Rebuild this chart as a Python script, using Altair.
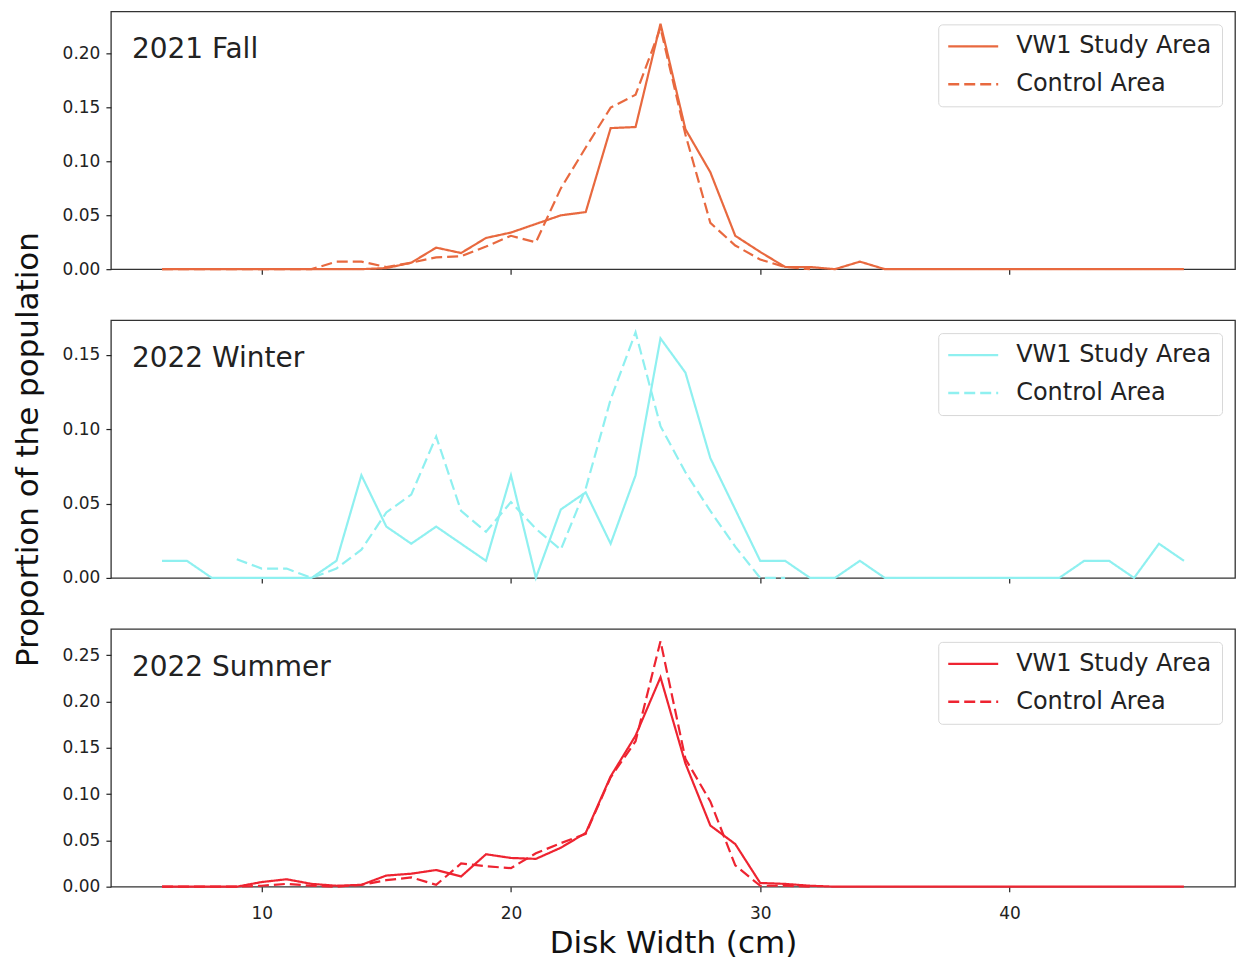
import altair as alt
import pandas as pd

# Disk width bins (cm)
widths = list(range(6, 48))

seasons = ["2021 Fall", "2022 Winter", "2022 Summer"]
colors = ["#E8693F", "#8FF0F0", "#EE2431"]
series_names = ["VW1 Study Area", "Control Area"]

# 2021 Fall (study area covers 6-47 cm, control 6-32 cm)
fall_study = [0, 0, 0, 0, 0, 0, 0, 0, 0, 0.001, 0.006, 0.020, 0.015, 0.029,
              0.034, 0.042, 0.050, 0.053, 0.131, 0.132, 0.228, 0.130, 0.090,
              0.031, 0.016, 0.002, 0.002, 0.0, 0.007, 0, 0, 0, 0, 0, 0, 0,
              0, 0, 0, 0, 0, 0]
fall_control_widths = list(range(6, 33))
fall_control = [0, 0, 0, 0, 0, 0, 0, 0.007, 0.007, 0.002, 0.006, 0.011,
                0.012, 0.021, 0.031, 0.025, 0.075, 0.113, 0.150, 0.162,
                0.224, 0.125, 0.043, 0.022, 0.009, 0.002, 0.0]

# 2022 Winter (study 6-47 cm, control 9-31 cm)
winter_study = [0.0115, 0.0115, 0, 0, 0, 0, 0, 0.0115, 0.069, 0.0345, 0.023,
                0.0345, 0.023, 0.0115, 0.069, 0, 0.046, 0.0575, 0.023, 0.069,
                0.161, 0.138, 0.0805, 0.046, 0.0115, 0.0115, 0, 0, 0.0115, 0,
                0, 0, 0, 0, 0, 0, 0, 0.0115, 0.0115, 0, 0.023, 0.0115]
winter_control_widths = list(range(9, 32))
winter_control = [0.0125, 0.0063, 0.0063, 0, 0.0063, 0.019, 0.044, 0.056,
                  0.095, 0.045, 0.031, 0.051, 0.033, 0.019, 0.060, 0.120,
                  0.165, 0.102, 0.071, 0.045, 0.021, 0, 0]

# 2022 Summer (study 6-47 cm, control 6-32 cm)
summer_study = [0, 0, 0, 0, 0.005, 0.008, 0.003, 0.001, 0.002, 0.012, 0.014,
                0.018, 0.011, 0.035, 0.031, 0.030, 0.042, 0.058, 0.119, 0.163,
                0.226, 0.133, 0.066, 0.046, 0.004, 0.003, 0.001, 0, 0, 0, 0,
                0, 0, 0, 0, 0, 0, 0, 0, 0, 0, 0]
summer_control_widths = list(range(6, 33))
summer_control = [0, 0, 0, 0, 0.001, 0.003, 0.001, 0.0, 0.002, 0.007, 0.010,
                  0.002, 0.025, 0.022, 0.020, 0.036, 0.047, 0.057, 0.118,
                  0.157, 0.265, 0.138, 0.092, 0.023, 0.001, 0.001, 0.0]

panels = [
    (seasons[0], colors[0], fall_study, fall_control_widths, fall_control,
     [0, 0.05, 0.10, 0.15, 0.20]),
    (seasons[1], colors[1], winter_study, winter_control_widths, winter_control,
     [0, 0.05, 0.10, 0.15]),
    (seasons[2], colors[2], summer_study, summer_control_widths, summer_control,
     [0, 0.05, 0.10, 0.15, 0.20, 0.25]),
]

FONT = "DejaVu Sans"
W, H = 1125, 258
X_DOMAIN = [3.95, 49.05]
# wide horizontal stroke used as the legend key (scaled by sqrt(symbolSize)/2)
LEGEND_KEY = "M-2.5,0H2.5"

charts = []
for i, (season, color, study, cw, control, yticks) in enumerate(panels):
    df = pd.concat([
        pd.DataFrame({"width": widths, "value": study, "series": series_names[0]}),
        pd.DataFrame({"width": cw, "value": control, "series": series_names[1]}),
    ], ignore_index=True)
    ymax = max(max(study), max(control)) * 1.05
    last = i == len(panels) - 1

    x_axis = alt.Axis(values=[10, 20, 30, 40], labels=last, grid=False,
                      labelFontSize=17, labelPadding=14,
                      title="Disk Width (cm)" if last else None,
                      titleFontSize=31, titleFontWeight="normal", titlePadding=7)
    y_axis = alt.Axis(values=yticks, format=".2f", grid=False, labelFontSize=17,
                      title="Proportion of the population" if i == 1 else None,
                      titleFontSize=31, titleFontWeight="normal", titlePadding=18)

    lines = alt.Chart(df).mark_line(color=color, strokeWidth=2.2).encode(
        x=alt.X("width:Q", scale=alt.Scale(domain=X_DOMAIN, nice=False, zero=False),
                axis=x_axis),
        y=alt.Y("value:Q", scale=alt.Scale(domain=[0, ymax], nice=False),
                axis=y_axis),
        strokeDash=alt.StrokeDash(
            "series:N",
            scale=alt.Scale(domain=series_names, range=[[1, 0], [11, 5]]),
            legend=alt.Legend(
                title=None, orient="top-right", offset=13,
                labelFontSize=24, labelFont=FONT, labelColor="#222",
                labelLimit=400,
                symbolType=LEGEND_KEY, symbolStrokeColor=color,
                symbolFillColor="transparent",
                symbolStrokeWidth=2.4, symbolSize=400, symbolOffset=13,
                labelOffset=31,
                strokeColor="#d8d8d8", cornerRadius=4, padding=10,
                fillColor="rgba(255,255,255,0.8)", rowPadding=14,
            ),
        ),
        order="width:Q",
    )

    label = alt.Chart(pd.DataFrame({"label": [season]})).mark_text(
        align="left", baseline="middle", fontSize=28, font=FONT, color="#222"
    ).encode(text="label:N", x=alt.value(21), y=alt.value(39))

    charts.append(alt.layer(lines, label).properties(width=W, height=H))

chart = alt.vconcat(*charts, spacing=51, bounds="flush").resolve_scale(
    strokeDash="independent", y="independent"
).resolve_legend(strokeDash="independent").properties(
    padding={"left": 11, "top": 10, "right": 3, "bottom": 5},
    background="white",
).configure_view(
    stroke="#333", strokeWidth=1.3
).configure_axis(
    domain=False, tickColor="#222", tickSize=5, tickWidth=1.2,
    labelFontSize=17, labelFont=FONT, labelColor="#222", labelPadding=6,
    titleFont=FONT, titleColor="#111",
)

chart.save("out.html", embed_options={"renderer": "svg", "actions": False})
